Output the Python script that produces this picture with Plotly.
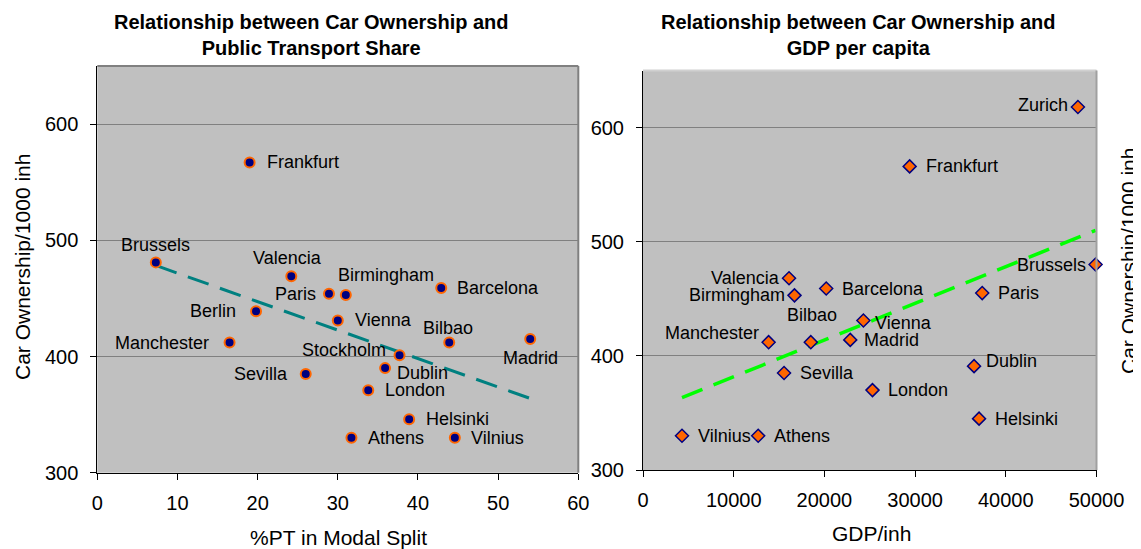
import numpy as np
import plotly.graph_objects as go

# left chart: share of public transport vs car ownership
pt_cities = ['Frankfurt', 'Brussels', 'Valencia', 'Paris', 'Birmingham', 'Barcelona',
             'Berlin', 'Vienna', 'Manchester', 'Bilbao', 'Madrid', 'Stockholm',
             'Dublin', 'Sevilla', 'London', 'Helsinki', 'Athens', 'Vilnius']
pt_share = [19.0, 7.3, 24.2, 28.9, 31.0, 42.9, 19.8, 30.0, 16.5, 43.9, 54.0, 37.7,
            35.9, 26.0, 33.8, 38.9, 31.7, 44.6]
pt_cars = [567, 481, 469, 454, 453, 459, 439, 431, 412, 412, 415, 401,
           390, 385, 371, 346, 330, 330]

# right chart: GDP per inhabitant vs car ownership
gdp_cities = ['Zurich', 'Frankfurt', 'Brussels', 'Valencia', 'Barcelona', 'Birmingham',
              'Paris', 'Vienna', 'Manchester', 'Bilbao', 'Madrid', 'Dublin',
              'Sevilla', 'London', 'Helsinki', 'Vilnius', 'Athens']
gdp = [47950, 29400, 49900, 16100, 20200, 16700, 37400, 24300, 13850, 18500, 22850, 36500,
       15550, 25300, 37050, 4300, 12700]
gdp_cars = [618, 566, 480, 468, 459, 453, 455, 431, 412, 412, 414, 391,
            385, 370, 345, 330, 330]

# label placement: (anchor side, x offset px, y offset px)
pt_lab = [('l', 17, 0), ('c', 0, 17), ('c', -4, 18), ('r', -13, 0), ('c', 40, 20), ('l', 16, 0),
          ('r', -20, 0), ('l', 17, 0), ('r', -21, 0), ('c', -1, 15), ('c', 0, -19), ('r', -14, 5),
          ('l', 12, -5), ('r', -18, 0), ('l', 17, 0), ('l', 17, 0), ('l', 17, 0), ('l', 16, 0)]
gdp_lab = [('r', -10, 2), ('l', 16, 0), ('r', -10, 0), ('r', -9, 0), ('l', 16, 0), ('r', -9, 0),
           ('l', 16, 0), ('l', 12, -3), ('r', -10, 9), ('c', 1, 27), ('l', 14, 0), ('l', 12, 5),
           ('l', 16, 0), ('l', 16, 0), ('l', 16, 0), ('l', 16, 0), ('l', 16, 0)]

FONT = 'Liberation Sans, Arial, sans-serif'
OFF = 8                      # page body margin
W, H = 1141 - OFF, 549 - OFF

def px(x):
    return (x - OFF) / W

def py(y):
    return (H - (y - OFF)) / H

def trend(x, y):
    k, b = np.polyfit(x, y, 1)
    xs = np.array([min(x), max(x)])
    return xs, k * xs + b

fig = go.Figure()

tx, ty = trend(pt_share, pt_cars)
fig.add_trace(go.Scatter(x=tx, y=ty, mode='lines', xaxis='x', yaxis='y',
                         line=dict(color='#008080', width=3, dash='22px,12px'), hoverinfo='skip'))
fig.add_trace(go.Scatter(x=pt_share, y=pt_cars, mode='markers', xaxis='x', yaxis='y',
                         cliponaxis=False,
                         marker=dict(symbol='circle', size=10, color='#000080',
                                     line=dict(color='#FF6600', width=2))))

tx, ty = trend(gdp, gdp_cars)
fig.add_trace(go.Scatter(x=tx, y=ty, mode='lines', xaxis='x2', yaxis='y2',
                         line=dict(color='#00FF00', width=3.5, dash='22px,12px'), hoverinfo='skip'))
fig.add_trace(go.Scatter(x=gdp, y=gdp_cars, mode='markers', xaxis='x2', yaxis='y2',
                         cliponaxis=False,
                         marker=dict(symbol='diamond', size=10, color='#FF6600',
                                     line=dict(color='#000080', width=1.5))))

# point labels
anchors = {'l': ('left', -2), 'r': ('right', 2), 'c': ('center', 0)}
for xs, ys, names, labs, xr, yr in [(pt_share, pt_cars, pt_cities, pt_lab, 'x', 'y'),
                                     (gdp, gdp_cars, gdp_cities, gdp_lab, 'x2', 'y2')]:
    for x, y, name, (side, dx, dy) in zip(xs, ys, names, labs):
        xa, pad = anchors[side]
        fig.add_annotation(x=x, y=y, xref=xr, yref=yr, text=name, showarrow=False,
                           xanchor=xa, yanchor='middle', xshift=dx + pad, yshift=dy,
                           font=dict(family=FONT, size=18, color='black'))

ax = dict(showline=True, linecolor='black', linewidth=1, ticks='outside', ticklen=6,
          tickcolor='black', tickfont=dict(family=FONT, size=20, color='black'),
          zeroline=False)
fig.update_layout(
    width=W, height=H, showlegend=False,
    paper_bgcolor='white', plot_bgcolor='#C0C0C0',
    margin=dict(l=0, r=0, t=0, b=0, autoexpand=False),
    xaxis=dict(ax, domain=[px(97.3), px(578.3)], range=[0, 60], dtick=10,
               showgrid=False, anchor='y', ticklabelstandoff=6),
    yaxis=dict(ax, domain=[py(472.7), py(66)], range=[300, 650],
               tick0=300, dtick=100, showgrid=True, gridcolor='#808080', gridwidth=1,
               anchor='x', ticklabelstandoff=8),
    xaxis2=dict(ax, domain=[px(643), px(1096.5)], range=[0, 50000], dtick=10000,
                tickformat='d', showgrid=False, anchor='y2', ticklabelstandoff=6),
    yaxis2=dict(ax, domain=[py(470), py(70.5)], range=[300, 650],
                tick0=300, dtick=100, showgrid=True, gridcolor='#808080', gridwidth=1,
                anchor='x2', ticklabelstandoff=8),
)

# plot area frames (top and right edges)
for xr, yr, top_col, right_col in [('x', 'y', '#808080', '#808080'),
                                   ('x2', 'y2', '#D0D0D0', '#A0A0A0')]:
    fig.add_shape(type='line', xref=xr + ' domain', yref=yr + ' domain',
                  x0=0, x1=1, y0=1, y1=1, line=dict(color=top_col, width=2))
    fig.add_shape(type='line', xref=xr + ' domain', yref=yr + ' domain',
                  x0=1, x1=1, y0=0, y1=1, line=dict(color=right_col, width=2))

def note(text, x, y, size=21, bold=False, angle=0):
    fig.add_annotation(text='<b>' + text + '</b>' if bold else text,
                       x=px(x), y=py(y), xref='paper', yref='paper',
                       xanchor='center', yanchor='middle', showarrow=False,
                       textangle=angle, font=dict(family=FONT, size=size, color='black'))

note('Relationship between Car Ownership and<br>Public Transport Share', 311, 35, 20, True)
note('Relationship between Car Ownership and<br>GDP per capita', 858, 35, 20, True)
note('%PT in Modal Split', 338, 537)
note('GDP/inh', 871, 533)
note('Car Ownership/1000 inh', 22, 267, angle=-90)
note('Car Ownership/1000 inh', 1128, 261, angle=-90)

fig.write_html('out.html')
